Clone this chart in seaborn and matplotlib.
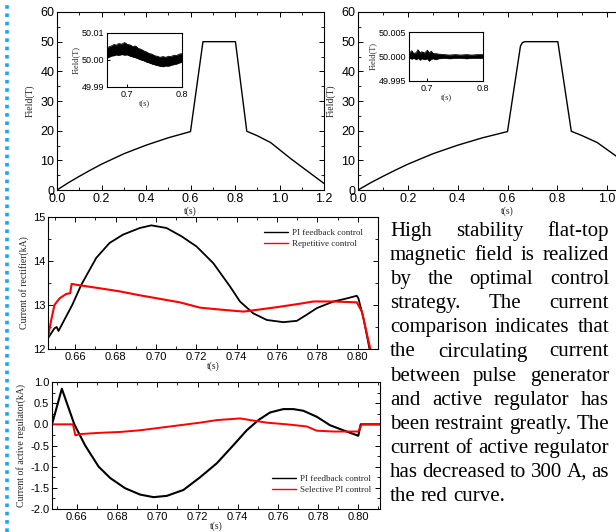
import numpy as np
import pandas as pd
import matplotlib
matplotlib.use("Agg")
import matplotlib.pyplot as plt
import seaborn as sns
from matplotlib.ticker import MultipleLocator, FormatStrFormatter
from matplotlib.lines import Line2D

# ---------------- data ----------------
# top panels: magnetic field waveform
field_t = [0.0, 0.05, 0.1, 0.15, 0.2, 0.3, 0.4, 0.5, 0.6, 0.656, 0.802, 0.853, 0.9, 0.96, 1.0, 1.05, 1.1, 1.15, 1.2]
field_left = [0.0, 2.4, 4.6, 6.7, 8.7, 12.2, 15.1, 17.6, 19.7, 50.0, 50.0, 19.8, 18.3, 16.0, 13.6, 10.6, 7.8, 5.0, 2.2]
field_t2 = [0.0, 0.05, 0.1, 0.15, 0.2, 0.3, 0.4, 0.5, 0.6, 0.652, 0.66, 0.67, 0.802, 0.856, 0.9, 0.96, 1.0, 1.05, 1.1, 1.15, 1.2]
field_right = [0.0, 2.4, 4.6, 6.7, 8.7, 12.2, 15.1, 17.6, 19.7, 48.5, 49.7, 50.0, 50.0, 19.8, 18.3, 16.0, 13.6, 10.6, 7.8, 5.0, 2.2]

# inset 1 (PI feedback): envelope of noisy flat-top
ins1_t = [0.663, 0.667, 0.672, 0.676, 0.68, 0.684, 0.69, 0.695, 0.70, 0.705, 0.71, 0.715, 0.72, 0.725, 0.73, 0.735, 0.74, 0.745, 0.75, 0.755, 0.76, 0.765, 0.77, 0.775, 0.78, 0.785, 0.79, 0.795, 0.80]
ins1_hi = [50.0042, 50.0050, 50.0053, 50.0058, 50.0055, 50.0061, 50.0059, 50.0065, 50.0058, 50.0056, 50.0050, 50.0052, 50.0043, 50.0040, 50.0034, 50.0030, 50.0024, 50.0022, 50.0016, 50.0014, 50.0010, 50.0013, 50.0010, 50.0014, 50.0013, 50.0018, 50.0017, 50.0022, 50.0024]
ins1_lo = [50.0008, 50.0012, 50.0016, 50.0017, 50.0020, 50.0018, 50.0021, 50.0019, 50.0020, 50.0015, 50.0012, 50.0009, 50.0005, 50.0001, 49.9998, 49.9993, 49.9990, 49.9986, 49.9983, 49.9980, 49.9978, 49.9976, 49.9979, 49.9978, 49.9981, 49.9984, 49.9986, 49.9990, 49.9993]

# inset 2 (optimal control): envelope of noisy flat-top
ins2_t = [0.667, 0.672, 0.675, 0.68, 0.683, 0.687, 0.69, 0.695, 0.70, 0.703, 0.707, 0.71, 0.715, 0.72, 0.73, 0.74, 0.75, 0.76, 0.77, 0.78, 0.79, 0.80]
ins2_hi = [50.0006, 50.0012, 50.0006, 50.0008, 50.0014, 50.0007, 50.0010, 50.0007, 50.0013, 50.0007, 50.0011, 50.0006, 50.0006, 50.0005, 50.0004, 50.0003, 50.0004, 50.0003, 50.0004, 50.0003, 50.0004, 50.0004]
ins2_lo = [49.9998, 49.9995, 49.9997, 49.9994, 49.9997, 49.9993, 49.9996, 49.9994, 49.9996, 49.9991, 49.9995, 49.9996, 49.9994, 49.9996, 49.9997, 49.9996, 49.9997, 49.9997, 49.9996, 49.9997, 49.9997, 49.9997]

# middle panel: current of rectifier (kA)
rect_t_pi = [0.6464, 0.6497, 0.6508, 0.6517, 0.6555, 0.6585, 0.6630, 0.6704, 0.6770, 0.6837, 0.6920, 0.6977, 0.7052, 0.7127, 0.7201, 0.7284, 0.7367, 0.7416, 0.7482, 0.7549, 0.7631, 0.7698, 0.7747, 0.7797, 0.7880, 0.7946, 0.7995, 0.8003, 0.8028, 0.8058]
rect_pi = [12.24, 12.47, 12.50, 12.41, 12.74, 13.00, 13.46, 14.07, 14.41, 14.60, 14.75, 14.81, 14.75, 14.56, 14.33, 13.95, 13.42, 13.08, 12.81, 12.66, 12.61, 12.64, 12.78, 12.93, 13.08, 13.15, 13.21, 13.15, 12.70, 12.00]
rect_t_rep = [0.6464, 0.6481, 0.6497, 0.6522, 0.6555, 0.6575, 0.6582, 0.6605, 0.6721, 0.6820, 0.6920, 0.7019, 0.7118, 0.7218, 0.7284, 0.7383, 0.7433, 0.7500, 0.7598, 0.7714, 0.7780, 0.7880, 0.7995, 0.8020, 0.8062]
rect_rep = [12.24, 12.66, 13.00, 13.15, 13.25, 13.27, 13.48, 13.46, 13.38, 13.31, 13.22, 13.14, 13.06, 12.94, 12.91, 12.87, 12.85, 12.89, 12.95, 13.03, 13.08, 13.08, 13.06, 12.85, 12.00]

# bottom panel: current of active regulator (kA)
reg_t_pi = [0.6476, 0.6525, 0.6587, 0.6641, 0.6708, 0.6766, 0.6840, 0.6915, 0.6981, 0.7047, 0.7130, 0.7213, 0.7296, 0.7379, 0.7445, 0.7503, 0.7561, 0.7627, 0.7677, 0.7727, 0.7793, 0.7859, 0.7925, 0.8000, 0.8012, 0.8108]
reg_pi = [0.0, 0.84, 0.0, -0.50, -1.00, -1.27, -1.51, -1.66, -1.72, -1.69, -1.55, -1.25, -0.92, -0.49, -0.14, 0.10, 0.28, 0.36, 0.36, 0.32, 0.18, -0.02, -0.14, -0.27, 0.0, 0.0]
reg_t_sel = [0.6476, 0.6580, 0.6592, 0.6617, 0.6716, 0.6815, 0.6915, 0.7014, 0.7114, 0.7213, 0.7296, 0.7412, 0.7462, 0.7544, 0.7644, 0.7743, 0.7793, 0.7876, 0.8000, 0.8017, 0.8108]
reg_sel = [0.0, 0.0, -0.26, -0.23, -0.20, -0.18, -0.14, -0.08, -0.02, 0.04, 0.10, 0.14, 0.10, 0.04, 0.0, -0.05, -0.15, -0.17, -0.17, 0.0, 0.0]

text_lines = [
    "High stability flat-top",
    "magnetic field is realized",
    "by the optimal control",
    "strategy. The current",
    "comparison indicates that",
    "the circulating current",
    "between pulse generator",
    "and active regulator has",
    "been restraint greatly. The",
    "current of active regulator",
    "has decreased to 300 A, as",
    "the red curve.",
]

# ---------------- style ----------------
sns.set_theme(style="ticks")
plt.rcParams['font.family'] = ['Liberation Sans', 'DejaVu Sans']
plt.rcParams['axes.linewidth'] = 0.8
SERIF = ['Liberation Serif', 'DejaVu Serif']

W, H = 616, 532
fig = plt.figure(figsize=(W / 100, H / 100), dpi=100)
fig.patch.set_facecolor('white')


def fax(l, t, r, b):
    ax = fig.add_axes([l / W, 1 - b / H, (r - l) / W, (b - t) / H])
    ax.set_facecolor('white')
    for s in ax.spines.values():
        s.set_color('black')
        s.set_linewidth(0.8)
    return ax


def style_ticks(ax, size, major=3.5, minor=2.0):
    ax.tick_params(which='both', direction='in', top=True, right=True, colors='black',
                   labelsize=size, pad=2)
    ax.tick_params(which='major', length=major, width=0.7)
    ax.tick_params(which='minor', length=minor, width=0.6)


def field_axes(ax, t, y):
    sns.lineplot(x=t, y=y, ax=ax, color='black', lw=1.0, sort=False, estimator=None)
    ax.set_xlim(0, 1.2)
    ax.set_ylim(0, 60)
    ax.xaxis.set_major_locator(MultipleLocator(0.2))
    ax.xaxis.set_minor_locator(MultipleLocator(0.1))
    ax.yaxis.set_major_locator(MultipleLocator(10))
    ax.yaxis.set_minor_locator(MultipleLocator(5))
    ax.xaxis.set_major_formatter(FormatStrFormatter('%.1f'))
    style_ticks(ax, 9)
    ax.set_xlabel('t(s)', family=SERIF, fontsize=7, labelpad=1)
    ax.set_ylabel('Field(T)', family=SERIF, fontsize=7, labelpad=4)


def inset_axes(ax, t, lo, hi, xl, yl, step, fmt):
    ax.fill_between(t, lo, hi, color='black', lw=0.4)
    sns.lineplot(x=t, y=hi, ax=ax, color='black', lw=0.5, sort=False, estimator=None)
    sns.lineplot(x=t, y=lo, ax=ax, color='black', lw=0.5, sort=False, estimator=None)
    ax.set_xlim(*xl)
    ax.set_ylim(*yl)
    ax.xaxis.set_major_locator(MultipleLocator(0.1))
    ax.yaxis.set_major_locator(MultipleLocator(step))
    ax.yaxis.set_major_formatter(FormatStrFormatter(fmt))
    ax.xaxis.set_major_formatter(FormatStrFormatter('%.1f'))
    style_ticks(ax, 6.5, major=2.5)
    ax.tick_params(top=False, right=False)
    ax.set_xlabel('t(s)', family=SERIF, fontsize=6, labelpad=1)
    ax.set_ylabel('Field(T)', family=SERIF, fontsize=6, labelpad=1)


# ---- top panels ----
ax1 = fax(57, 12, 324, 190)
field_axes(ax1, field_t, field_left)
ax2 = fax(358, 12, 657, 190)
field_axes(ax2, field_t2, field_right)

ai1 = fax(107, 33, 182, 87)
inset_axes(ai1, ins1_t, ins1_lo, ins1_hi, (0.663, 0.8), (49.99, 50.01), 0.01, '%.2f')
ai2 = fax(409, 32, 483, 81)
inset_axes(ai2, ins2_t, ins2_lo, ins2_hi, (0.667, 0.8), (49.995, 50.005), 0.005, '%.3f')

# ---- middle: rectifier current ----
ax3 = fax(48, 217, 378, 349)
sns.lineplot(x=rect_t_pi, y=rect_pi, ax=ax3, color='black', lw=1.3, sort=False, estimator=None,
             label='PI feedback control')
sns.lineplot(x=rect_t_rep, y=rect_rep, ax=ax3, color='red', lw=1.5, sort=False, estimator=None,
             label='Repetitive control')
ax3.set_xlim(0.6465, 0.81)
ax3.set_ylim(12, 15)
ax3.xaxis.set_major_locator(MultipleLocator(0.02))
ax3.xaxis.set_minor_locator(MultipleLocator(0.01))
ax3.yaxis.set_major_locator(MultipleLocator(1))
ax3.yaxis.set_minor_locator(MultipleLocator(0.5))
ax3.xaxis.set_major_formatter(FormatStrFormatter('%.2f'))
style_ticks(ax3, 8)
ax3.set_xlabel('t(s)', family=SERIF, fontsize=7, labelpad=0)
ax3.set_ylabel('Current of rectifier(kA)', family=SERIF, fontsize=7, labelpad=3)
leg3 = ax3.legend(loc='upper left', bbox_to_anchor=(0.655, 0.91), frameon=False,
                  prop={'family': SERIF, 'size': 6.5}, borderpad=0, borderaxespad=0,
                  handlelength=2.6, handletextpad=0.5, labelspacing=0.3)
for h in leg3.get_lines():
    h.set_linewidth(1.0)

# ---- bottom: active regulator current ----
ax4 = fax(52, 382, 380, 509)
sns.lineplot(x=reg_t_pi, y=reg_pi, ax=ax4, color='black', lw=1.5, sort=False, estimator=None,
             label='PI feedback control')
sns.lineplot(x=reg_t_sel, y=reg_sel, ax=ax4, color='red', lw=1.4, sort=False, estimator=None,
             label='Selective PI control')
ax4.set_xlim(0.6476, 0.8108)
ax4.set_ylim(-2.0, 1.0)
ax4.xaxis.set_major_locator(MultipleLocator(0.02))
ax4.xaxis.set_minor_locator(MultipleLocator(0.01))
ax4.yaxis.set_major_locator(MultipleLocator(0.5))
ax4.yaxis.set_minor_locator(MultipleLocator(0.25))
ax4.xaxis.set_major_formatter(FormatStrFormatter('%.2f'))
ax4.yaxis.set_major_formatter(FormatStrFormatter('%.1f'))
style_ticks(ax4, 8)
ax4.set_xlabel('t(s)', family=SERIF, fontsize=7, labelpad=0)
ax4.set_ylabel('Current of active regulator(kA)', family=SERIF, fontsize=7, labelpad=3)
leg4 = ax4.legend(loc='upper left', bbox_to_anchor=(0.672, 0.27), frameon=False,
                  prop={'family': SERIF, 'size': 6.5}, borderpad=0, borderaxespad=0,
                  handlelength=2.6, handletextpad=0.5, labelspacing=0.3)
for h in leg4.get_lines():
    h.set_linewidth(1.0)

# ---- blue dotted margin line ----
fig.add_artist(Line2D([7 / W, 7 / W], [0, 1 - 4 / H], transform=fig.transFigure,
                      color='#1ea5ec', lw=2.6, linestyle=(0, (1.0, 1.3)), dash_capstyle='butt'))

# ---- justified text block ----
renderer = fig.canvas.get_renderer()
X0, X1 = 390, 609
BASE0, STEP = 236, 24.1
FS = 15.0
probe2 = fig.text(0, 0, 'a a', fontsize=FS, family=SERIF)
probe1 = fig.text(0, 0, 'aa', fontsize=FS, family=SERIF)
space_w = probe2.get_window_extent(renderer).width - probe1.get_window_extent(renderer).width
probe2.remove()
probe1.remove()
for i, line in enumerate(text_lines):
    words = line.split()
    ypix = BASE0 + i * STEP
    objs = [fig.text(0, 1 - ypix / H, w, fontsize=FS, family=SERIF, color='black',
                     va='baseline', ha='left') for w in words]
    widths = [o.get_window_extent(renderer).width for o in objs]
    if i == len(text_lines) - 1 or len(words) == 1:
        gap = space_w
    else:
        gap = (X1 - X0 - sum(widths)) / (len(words) - 1)
    x = X0
    for o, w in zip(objs, widths):
        o.set_x(x / W)
        x += w + gap

fig.savefig('out.png', dpi=100, facecolor='white')
